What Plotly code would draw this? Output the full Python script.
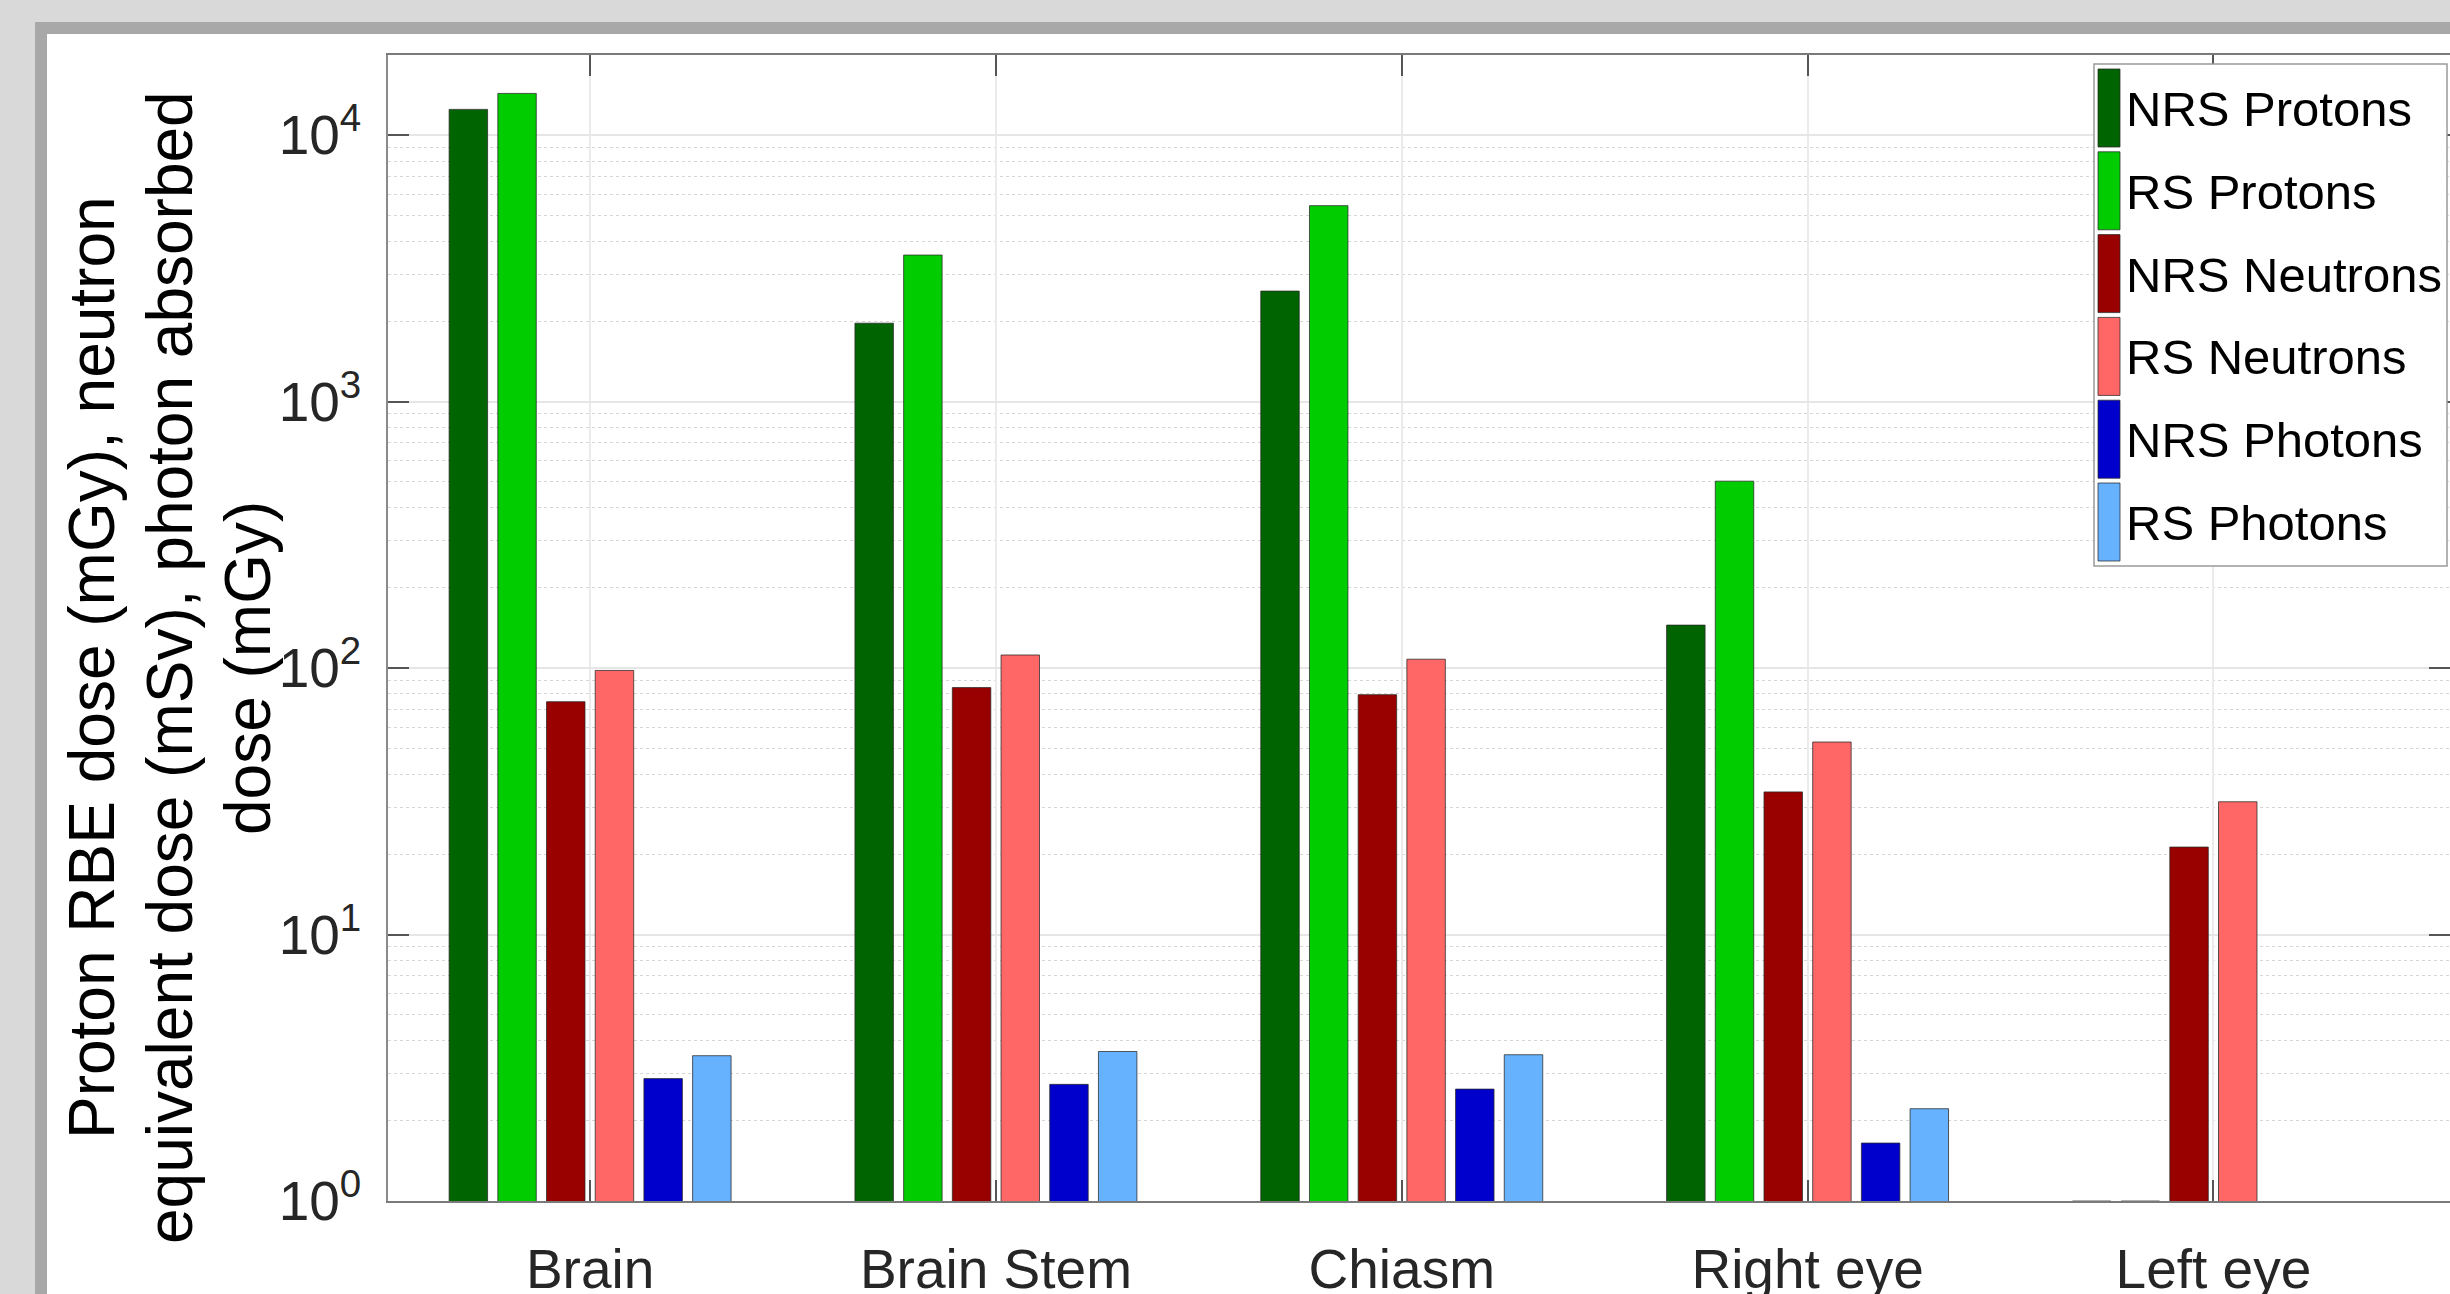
import plotly.graph_objects as go

# Organs at risk (x categories)
organs = ["Brain", "Brain Stem", "Chiasm", "Right eye", "Left eye"]

# Dose per organ: proton RBE dose (mGy), neutron equivalent dose (mSv), photon absorbed dose (mGy)
nrs_protons = [12500, 1970, 2600, 145, 1.0]
rs_protons = [14350, 3550, 5440, 503, 1.0]
nrs_neutrons = [74.8, 84.5, 79.5, 34.3, 21.3]
rs_neutrons = [98, 112, 108, 52.8, 31.5]
nrs_photons = [2.88, 2.74, 2.63, 1.65, 0.95]
rs_photons = [3.51, 3.64, 3.54, 2.22, 0.95]

series_names = ["NRS Protons", "RS Protons", "NRS Neutrons",
                "RS Neutrons", "NRS Photons", "RS Photons"]
series_values = [nrs_protons, rs_protons, nrs_neutrons,
                 rs_neutrons, nrs_photons, rs_photons]
series_colors = ["#006400", "#00cc00", "#990000",
                 "#ff6666", "#0000cc", "#66b2ff"]

ytick_vals = [1, 10, 100, 1000, 10000]
ytick_text = ["10<sup>0</sup>", "10<sup>1</sup>", "10<sup>2</sup>",
              "10<sup>3</sup>", "10<sup>4</sup>"]

y_title_lines = ["Proton RBE dose (mGy), neutron",
                 "equivalent dose (mSv), photon absorbed",
                 "dose (mGy)"]

# Page geometry (pixels) and helpers to place decorations in paper units
W, H = 2450, 1294
L, R, T, B = 388, 0, 55, 93
PW = W - L - R
PH = H - T - B


def px(x):
    return (x - L) / PW


def py(y):
    return (H - B - y) / PH


FONT = "Liberation Sans, Arial, Helvetica, sans-serif"
EDGE = "rgba(40,40,40,0.75)"

fig = go.Figure()
for name, vals, col in zip(series_names, series_values, series_colors):
    fig.add_trace(go.Bar(
        name=name, x=organs, y=vals,
        marker=dict(color=col, line=dict(color=EDGE, width=1)),
        showlegend=False,
    ))

shapes = [
    # window frame around the white figure panel
    dict(type="rect", xref="paper", yref="paper", layer="below",
         x0=px(0), x1=px(W), y0=py(H), y1=py(0),
         fillcolor="#d9d9d9", line=dict(width=0)),
    dict(type="rect", xref="paper", yref="paper", layer="below",
         x0=px(35), x1=px(W), y0=py(H), y1=py(22),
         fillcolor="#a8a8a8", line=dict(width=0)),
    dict(type="rect", xref="paper", yref="paper", layer="below",
         x0=px(47), x1=px(W), y0=py(H), y1=py(34),
         fillcolor="#ffffff", line=dict(width=0)),
    # legend box
    dict(type="rect", xref="paper", yref="paper", layer="above",
         x0=px(2094), x1=px(2447), y0=py(566), y1=py(64),
         fillcolor="#ffffff", line=dict(color="#9a9a9a", width=1.5)),
]

annotations = []
row0, row_h, sw_h = 69, 82.8, 78
for i, (name, col) in enumerate(zip(series_names, series_colors)):
    top = row0 + i * row_h
    shapes.append(dict(type="rect", xref="paper", yref="paper", layer="above",
                       x0=px(2098), x1=px(2120), y0=py(top + sw_h), y1=py(top),
                       fillcolor=col, line=dict(color=EDGE, width=1)))
    annotations.append(dict(xref="paper", yref="paper", x=px(2124), y=py(top + sw_h / 2 + 1),
                            xanchor="left", yanchor="middle", showarrow=False,
                            text=name, font=dict(family=FONT, size=49, color="#000000")))

# rotated three-line y-axis title, one line per annotation
for line, cx in zip(y_title_lines, [92, 170, 248]):
    annotations.append(dict(xref="paper", yref="paper", x=px(cx), y=py(668),
                            xanchor="center", yanchor="middle", showarrow=False,
                            textangle=-90, text=line,
                            font=dict(family=FONT, size=64, color="#000000")))

fig.update_layout(
    width=W, height=H, autosize=False,
    margin=dict(l=L, r=R, t=T, b=B, pad=0, autoexpand=False),
    paper_bgcolor="#ffffff", plot_bgcolor="#ffffff",
    barmode="group", bargap=0.28, bargroupgap=0.21,
    shapes=shapes, annotations=annotations,
    showlegend=False,
    font=dict(family=FONT, color="#262626"),
)

fig.update_xaxes(
    type="category", categoryorder="array", categoryarray=organs,
    range=[-0.498, 4.583], automargin=False,
    showline=True, linecolor="#7a7a7a", linewidth=1.5, mirror="allticks",
    ticks="inside", ticklen=21, tickwidth=1.5, tickcolor="#555555",
    showgrid=True, gridcolor="#ebebeb", gridwidth=1.5,
    tickfont=dict(family=FONT, size=55, color="#262626"),
    ticklabelstandoff=19,
    zeroline=False,
)

fig.update_yaxes(
    type="log", range=[0, 4.301], automargin=False,
    tickmode="array", tickvals=ytick_vals, ticktext=ytick_text,
    showline=True, linecolor="#8a8a8a", linewidth=1.5, mirror="allticks",
    ticks="inside", ticklen=21, tickwidth=1.5, tickcolor="#555555",
    showgrid=True, gridcolor="#e6e6e6", gridwidth=1.5,
    minor=dict(dtick="D1", showgrid=True, gridcolor="#d6d6d6",
               griddash="dot", gridwidth=1, ticks=""),
    tickfont=dict(family=FONT, size=55, color="#262626"),
    ticklabelstandoff=14,
    zeroline=False,
)

fig.write_html("out.html", config=dict(displayModeBar=False))
